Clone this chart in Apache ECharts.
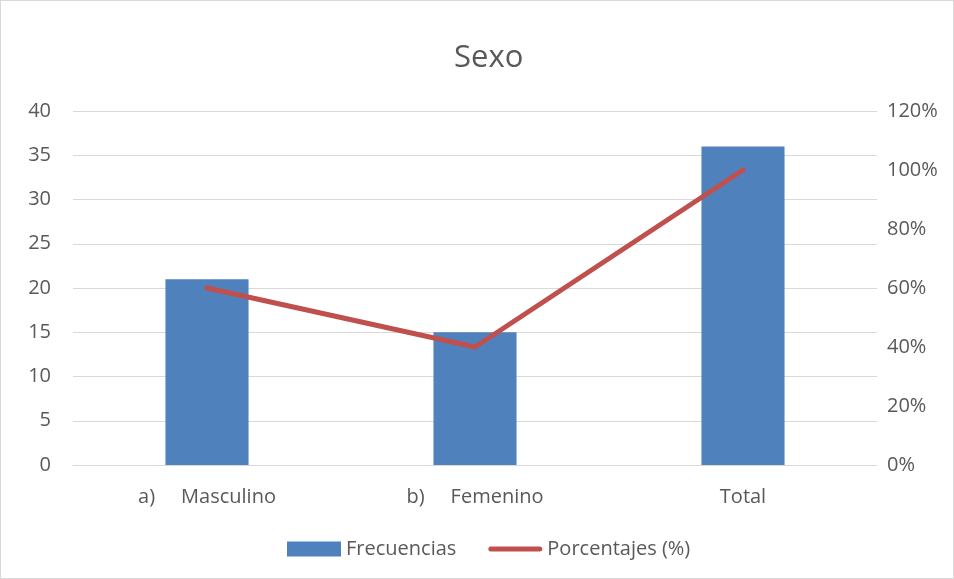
<!DOCTYPE html>
<html>
<head>
<meta charset="utf-8">
<script src="https://cdn.jsdelivr.net/npm/echarts@6/dist/echarts.min.js"></script>
<style>
  html, body { margin: 0; padding: 0; background: #fff; }
  #chart {
    width: 952px;
    height: 577px;
    border: 1px solid #d9d9d9;
  }
</style>
</head>
<body>
<div id="chart"></div>
<script>
// datos del gráfico
const categorias = ['a)     Masculino', 'b)     Femenino', 'Total'];
const frecuencias = [21, 15, 36];
const porcentajes = [60, 40, 100];

const chart = echarts.init(document.getElementById('chart'));
const fuente = '"Open Sans", "Liberation Sans", sans-serif';

chart.setOption({
  animation: false,
  textStyle: { fontFamily: fuente },
  title: {
    text: 'Sexo',
    left: 448,
    top: 37,
    textStyle: { fontSize: 31, fontWeight: 'normal', color: '#595959', fontFamily: fuente }
  },
  legend: {
    bottom: 14,
    left: 281,
    itemGap: 32,
    itemWidth: 54,
    itemHeight: 15,
    textStyle: { fontSize: 20, color: '#595959', fontFamily: fuente },
    data: [
      { name: 'Frecuencias', icon: 'rect' },
      {
        name: 'Porcentajes (%)',
        icon: 'path://M2.5,0 L51.5,0 A2.5,2.5 0 0 1 51.5,5 L2.5,5 A2.5,2.5 0 0 1 2.5,0 Z',
        itemStyle: { color: '#c0504d', borderWidth: 0 }
      }
    ]
  },
  grid: {
    left: 72,
    right: 76,
    top: 110,
    bottom: 113
  },
  xAxis: {
    type: 'category',
    data: categorias,
    axisTick: { show: false },
    axisLine: { lineStyle: { color: '#d9d9d9', width: 1 } },
    axisLabel: { fontSize: 20, color: '#595959', margin: 22, fontFamily: fuente }
  },
  yAxis: [
    {
      type: 'value',
      min: 0,
      max: 40,
      interval: 5,
      axisLine: { show: false },
      axisTick: { show: false },
      splitLine: { lineStyle: { color: '#d9d9d9', width: 1 } },
      axisLabel: { fontSize: 20, color: '#595959', margin: 22, fontFamily: fuente }
    },
    {
      type: 'value',
      min: 0,
      max: 120,
      interval: 20,
      axisLine: { show: false },
      axisTick: { show: false },
      splitLine: { show: false },
      axisLabel: { fontSize: 20, color: '#595959', margin: 10, formatter: '{value}%', fontFamily: fuente }
    }
  ],
  series: [
    {
      name: 'Frecuencias',
      type: 'bar',
      data: frecuencias,
      barWidth: '31%',
      itemStyle: { color: '#4f81bd' }
    },
    {
      name: 'Porcentajes (%)',
      type: 'line',
      yAxisIndex: 1,
      data: porcentajes,
      symbol: 'none',
      lineStyle: { color: '#c0504d', width: 5, cap: 'round', join: 'round' },
      itemStyle: { color: '#c0504d' }
    }
  ]
});
</script>
</body>
</html>
